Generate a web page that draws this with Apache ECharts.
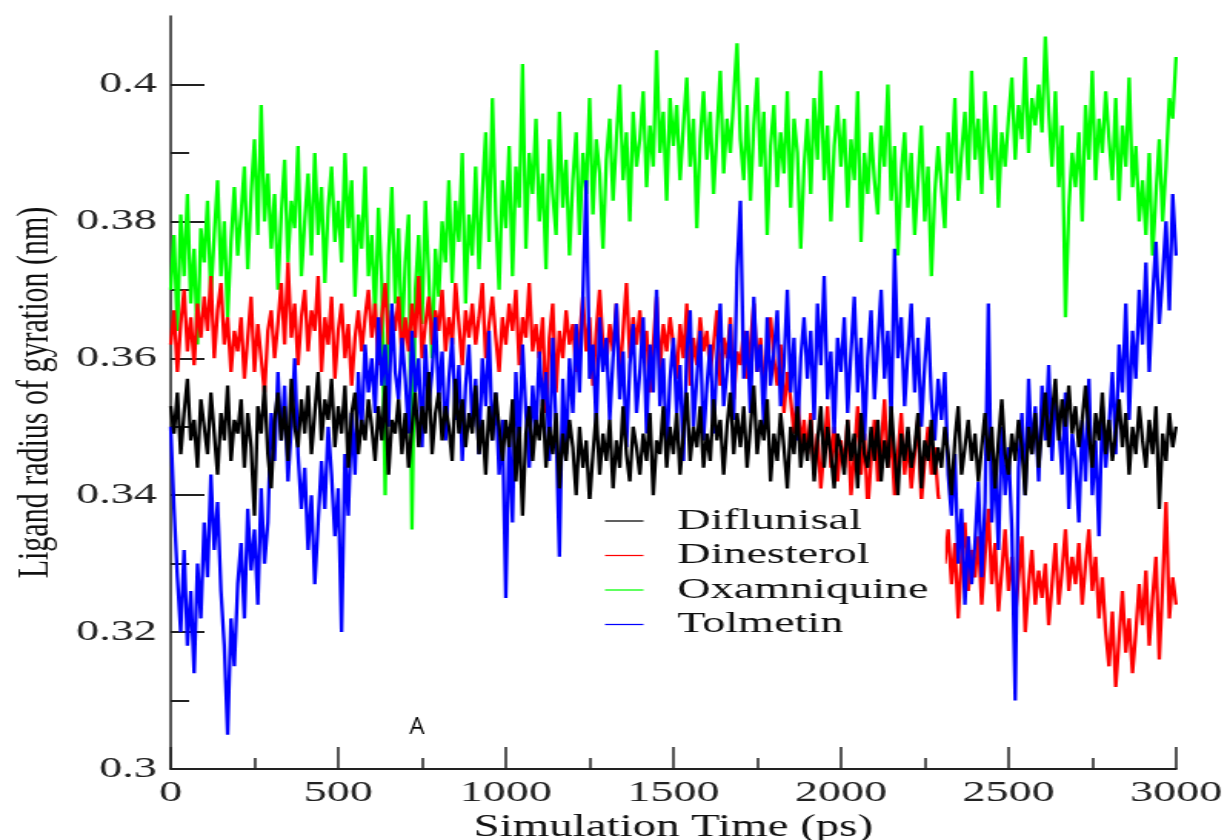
<!DOCTYPE html>
<html>
<head>
<meta charset="utf-8">
<script src="https://cdn.jsdelivr.net/npm/echarts@6/dist/echarts.min.js"></script>
<style>
html,body{margin:0;padding:0;background:#fff;overflow:hidden;}
#chart{width:800px;height:840px;transform:scaleX(1.5375);transform-origin:0 0;}
</style>
</head>
<body>
<div id="chart"></div>
<script>
// Simulation time step (ps) between samples, samples from 0 to 3000 ps
const timeStep = 10;

const diflunisal = [
0.353,0.349,0.355,0.346,0.352,0.357,0.348,0.351,0.344,0.354,
0.350,0.346,0.355,0.349,0.343,0.352,0.348,0.356,0.345,0.351,
0.349,0.354,0.344,0.352,0.347,0.337,0.353,0.349,0.356,0.346,
0.341,0.351,0.355,0.348,0.353,0.345,0.357,0.350,0.347,0.354,
0.349,0.356,0.346,0.352,0.358,0.348,0.354,0.351,0.357,0.347,
0.353,0.349,0.356,0.344,0.352,0.355,0.346,0.351,0.348,0.354,
0.350,0.345,0.353,0.348,0.356,0.343,0.351,0.349,0.354,0.346,
0.352,0.344,0.350,0.355,0.347,0.353,0.349,0.358,0.346,0.352,
0.355,0.348,0.353,0.350,0.345,0.357,0.349,0.354,0.347,0.352,
0.349,0.356,0.346,0.351,0.343,0.353,0.348,0.355,0.350,0.345,
0.351,0.347,0.354,0.342,0.350,0.337,0.349,0.353,0.345,0.351,
0.348,0.354,0.344,0.350,0.346,0.352,0.341,0.349,0.345,0.351,
0.347,0.340,0.350,0.344,0.348,0.339,0.346,0.352,0.343,0.349,
0.345,0.351,0.341,0.348,0.344,0.353,0.346,0.342,0.350,0.347,
0.343,0.349,0.345,0.352,0.340,0.348,0.346,0.353,0.344,0.350,
0.346,0.352,0.343,0.349,0.355,0.345,0.350,0.347,0.353,0.344,
0.349,0.345,0.354,0.348,0.351,0.343,0.350,0.355,0.346,0.352,
0.347,0.353,0.344,0.350,0.356,0.346,0.351,0.348,0.354,0.342,
0.349,0.345,0.352,0.347,0.341,0.350,0.346,0.353,0.344,0.349,
0.345,0.351,0.342,0.348,0.353,0.344,0.350,0.346,0.341,0.349,
0.347,0.343,0.351,0.345,0.349,0.341,0.352,0.346,0.344,0.350,
0.345,0.351,0.342,0.348,0.344,0.353,0.346,0.340,0.349,0.345,
0.350,0.344,0.347,0.352,0.341,0.348,0.345,0.351,0.343,0.347,
0.344,0.350,0.346,0.340,0.348,0.353,0.343,0.347,0.351,0.345,
0.349,0.342,0.347,0.352,0.345,0.350,0.341,0.348,0.354,0.346,
0.343,0.349,0.345,0.351,0.347,0.340,0.350,0.346,0.352,0.344,
0.350,0.355,0.347,0.352,0.357,0.348,0.354,0.350,0.356,0.349,
0.353,0.347,0.351,0.356,0.349,0.344,0.352,0.348,0.355,0.346,
0.351,0.345,0.349,0.354,0.347,0.352,0.343,0.350,0.346,0.353,
0.348,0.344,0.351,0.346,0.353,0.338,0.349,0.345,0.352,0.347,
0.350];

const dinesterol = [
0.362,0.367,0.358,0.365,0.370,0.361,0.366,0.359,0.368,0.363,
0.369,0.364,0.372,0.360,0.367,0.371,0.362,0.366,0.358,0.364,
0.361,0.366,0.357,0.363,0.369,0.358,0.365,0.360,0.355,0.364,
0.367,0.360,0.365,0.371,0.362,0.374,0.363,0.368,0.359,0.366,
0.370,0.361,0.367,0.364,0.372,0.358,0.366,0.362,0.369,0.357,
0.364,0.368,0.360,0.365,0.356,0.363,0.367,0.361,0.366,0.370,
0.363,0.368,0.359,0.366,0.371,0.362,0.367,0.364,0.369,0.360,
0.366,0.361,0.368,0.363,0.372,0.360,0.365,0.369,0.362,0.367,
0.364,0.370,0.361,0.366,0.362,0.371,0.365,0.359,0.367,0.363,
0.368,0.362,0.366,0.371,0.360,0.365,0.369,0.363,0.358,0.366,
0.362,0.368,0.364,0.370,0.359,0.366,0.363,0.371,0.361,0.365,
0.360,0.366,0.352,0.363,0.368,0.355,0.364,0.360,0.367,0.362,
0.365,0.358,0.363,0.369,0.361,0.366,0.356,0.364,0.370,0.362,
0.359,0.365,0.361,0.368,0.357,0.364,0.371,0.360,0.366,0.362,
0.367,0.360,0.364,0.355,0.362,0.369,0.358,0.365,0.361,0.366,
0.362,0.357,0.365,0.360,0.368,0.356,0.363,0.359,0.366,0.361,
0.364,0.358,0.362,0.367,0.356,0.363,0.360,0.366,0.354,0.361,
0.359,0.364,0.357,0.362,0.368,0.358,0.363,0.355,0.361,0.366,
0.360,0.356,0.362,0.352,0.358,0.354,0.349,0.355,0.347,0.351,
0.346,0.352,0.343,0.349,0.341,0.347,0.353,0.344,0.350,0.342,
0.348,0.344,0.351,0.340,0.346,0.353,0.343,0.349,0.338,0.345,
0.351,0.342,0.347,0.354,0.344,0.349,0.340,0.346,0.352,0.343,
0.348,0.341,0.346,0.351,0.339,0.345,0.350,0.343,0.347,0.340,
0.337,0.330,0.335,0.327,0.333,0.322,0.331,0.336,0.326,0.332,
0.328,0.334,0.324,0.331,0.338,0.327,0.333,0.323,0.329,0.335,
0.326,0.331,0.322,0.328,0.334,0.320,0.327,0.332,0.324,0.329,
0.325,0.330,0.321,0.327,0.333,0.324,0.329,0.335,0.326,0.331,
0.327,0.333,0.324,0.330,0.335,0.326,0.331,0.322,0.328,0.320,
0.315,0.323,0.312,0.319,0.326,0.317,0.322,0.314,0.320,0.327,
0.321,0.329,0.318,0.325,0.331,0.316,0.327,0.339,0.322,0.328,
0.324];

const oxamniquine = [
0.370,0.378,0.364,0.381,0.372,0.384,0.368,0.376,0.362,0.379,
0.374,0.383,0.369,0.378,0.386,0.372,0.380,0.366,0.377,0.385,
0.375,0.381,0.388,0.373,0.384,0.392,0.378,0.397,0.380,0.387,
0.376,0.384,0.370,0.381,0.389,0.374,0.383,0.379,0.391,0.372,
0.380,0.387,0.375,0.390,0.378,0.385,0.371,0.382,0.388,0.377,
0.383,0.374,0.390,0.379,0.386,0.369,0.381,0.376,0.388,0.372,
0.378,0.366,0.382,0.371,0.340,0.375,0.385,0.368,0.379,0.362,
0.374,0.381,0.335,0.370,0.378,0.365,0.383,0.372,0.360,0.376,
0.369,0.380,0.374,0.386,0.371,0.383,0.377,0.390,0.368,0.381,
0.375,0.388,0.373,0.384,0.393,0.377,0.398,0.381,0.370,0.386,
0.379,0.391,0.372,0.388,0.382,0.403,0.376,0.390,0.384,0.395,
0.380,0.387,0.373,0.392,0.384,0.378,0.396,0.382,0.389,0.375,
0.386,0.393,0.378,0.390,0.384,0.398,0.381,0.392,0.387,0.376,
0.389,0.395,0.383,0.392,0.400,0.386,0.393,0.380,0.396,0.388,
0.392,0.399,0.385,0.394,0.388,0.405,0.390,0.396,0.383,0.398,
0.391,0.397,0.386,0.394,0.401,0.388,0.395,0.379,0.392,0.399,
0.389,0.396,0.384,0.393,0.402,0.387,0.395,0.390,0.398,0.406,
0.392,0.386,0.397,0.383,0.394,0.401,0.388,0.396,0.378,0.391,
0.397,0.385,0.393,0.387,0.399,0.382,0.395,0.390,0.376,0.388,
0.395,0.384,0.398,0.389,0.402,0.386,0.394,0.380,0.391,0.397,
0.388,0.395,0.382,0.392,0.386,0.399,0.377,0.390,0.384,0.393,
0.386,0.381,0.394,0.388,0.400,0.383,0.391,0.375,0.387,0.393,
0.382,0.390,0.378,0.386,0.394,0.380,0.388,0.372,0.384,0.391,
0.385,0.379,0.393,0.387,0.398,0.383,0.390,0.396,0.386,0.402,
0.389,0.395,0.384,0.399,0.391,0.386,0.397,0.382,0.393,0.388,
0.395,0.401,0.389,0.397,0.392,0.404,0.390,0.398,0.394,0.400,
0.393,0.407,0.396,0.388,0.399,0.385,0.394,0.366,0.382,0.390,
0.385,0.393,0.380,0.397,0.389,0.402,0.386,0.395,0.390,0.399,
0.392,0.386,0.398,0.383,0.394,0.388,0.401,0.385,0.391,0.380,
0.386,0.378,0.390,0.375,0.384,0.392,0.380,0.388,0.398,0.395,
0.404];

const tolmetin = [
0.350,0.338,0.328,0.320,0.332,0.318,0.326,0.314,0.330,0.322,
0.336,0.328,0.343,0.332,0.339,0.326,0.318,0.305,0.322,0.315,
0.327,0.333,0.322,0.338,0.329,0.335,0.324,0.341,0.330,0.336,
0.352,0.345,0.358,0.348,0.356,0.342,0.350,0.360,0.346,0.338,
0.344,0.332,0.340,0.327,0.336,0.345,0.338,0.350,0.343,0.334,
0.341,0.320,0.346,0.337,0.352,0.343,0.358,0.349,0.362,0.355,
0.360,0.352,0.366,0.356,0.362,0.350,0.368,0.358,0.354,0.363,
0.357,0.349,0.364,0.355,0.360,0.347,0.362,0.353,0.358,0.366,
0.354,0.361,0.348,0.357,0.363,0.351,0.359,0.345,0.356,0.362,
0.350,0.357,0.346,0.360,0.353,0.364,0.348,0.355,0.343,0.351,
0.325,0.350,0.336,0.358,0.347,0.362,0.352,0.344,0.356,0.349,
0.361,0.353,0.358,0.345,0.363,0.350,0.331,0.357,0.346,0.360,
0.352,0.365,0.355,0.369,0.386,0.357,0.362,0.350,0.366,0.358,
0.363,0.351,0.360,0.368,0.354,0.361,0.347,0.359,0.365,0.352,
0.358,0.366,0.349,0.362,0.355,0.370,0.353,0.360,0.346,0.357,
0.363,0.352,0.359,0.345,0.361,0.367,0.350,0.357,0.364,0.348,
0.356,0.362,0.349,0.360,0.368,0.353,0.358,0.365,0.351,0.373,
0.383,0.357,0.364,0.352,0.369,0.358,0.362,0.350,0.366,0.356,
0.361,0.367,0.353,0.359,0.370,0.355,0.363,0.348,0.360,0.366,
0.357,0.364,0.351,0.368,0.359,0.372,0.354,0.361,0.349,0.363,
0.358,0.366,0.352,0.361,0.369,0.355,0.363,0.348,0.360,0.367,
0.354,0.362,0.370,0.357,0.364,0.351,0.376,0.360,0.366,0.353,
0.361,0.368,0.355,0.363,0.350,0.359,0.366,0.354,0.348,0.357,
0.351,0.358,0.343,0.337,0.346,0.330,0.338,0.324,0.334,0.327,
0.333,0.342,0.328,0.339,0.368,0.336,0.345,0.332,0.350,0.340,
0.347,0.335,0.310,0.344,0.352,0.340,0.357,0.346,0.353,0.342,
0.356,0.348,0.359,0.345,0.354,0.350,0.343,0.355,0.338,0.349,
0.345,0.336,0.351,0.342,0.357,0.340,0.348,0.334,0.353,0.344,
0.350,0.358,0.346,0.362,0.355,0.368,0.351,0.364,0.357,0.370,
0.362,0.374,0.358,0.369,0.377,0.365,0.372,0.380,0.367,0.384,
0.375];

const xTicks = [0, 500, 1000, 1500, 2000, 2500, 3000];
const yTicks = [0.3, 0.32, 0.34, 0.36, 0.38, 0.4];
const yMinorTicks = [0.31, 0.33, 0.35, 0.37, 0.39];

function pairs(arr) {
  return arr.map(function (v, i) { return [i * timeStep, v]; });
}

const S = 1.5375; // horizontal stretch applied to the whole canvas
const serif = '"Liberation Serif", "Times New Roman", serif';
const axisCol = '#222';
const lineIcon = 'path://M0,0 H40 V2 H0 Z';

const chart = echarts.init(document.getElementById('chart'));

const option = {
  backgroundColor: '#fff',
  animation: false,
  grid: { left: 111, right: 35.1, top: 16, bottom: 71, containLabel: false, outerBoundsMode: 'none' },
  xAxis: [{
    type: 'value', min: 0, max: 3000, interval: 500,
    name: 'Simulation Time (ps)', nameLocation: 'middle', nameGap: 35,
    nameTextStyle: { fontFamily: serif, fontSize: 30.5, color: '#111' },
    axisLine: { show: true, onZero: false, lineStyle: { color: axisCol, width: 2 } },
    axisTick: { show: true, inside: true, length: 22, customValues: xTicks, lineStyle: { color: axisCol, width: 1.5 } },
    minorTick: { show: true, splitNumber: 2, length: 11, lineStyle: { color: axisCol, width: 1.5 } },
    axisLabel: { fontFamily: serif, fontSize: 30, color: '#222', margin: 9, customValues: xTicks,
      formatter: function (v) { return String(Math.round(v)); } },
    splitLine: { show: false }, minorSplitLine: { show: false }
  }],
  yAxis: [{
    type: 'value', min: 0.3, max: 0.41,
    name: 'Ligand radius of gyration (nm)', nameLocation: 'middle', nameGap: 73, nameRotate: 90,
    nameTextStyle: { fontFamily: serif, fontSize: 30, color: '#111' },
    axisLine: { show: true, onZero: false, lineStyle: { color: axisCol, width: 1.5 } },
    axisTick: { show: true, inside: true, length: 22, customValues: yTicks, lineStyle: { color: axisCol, width: 2 } },
    axisLabel: { fontFamily: serif, fontSize: 30, color: '#222', margin: 9, customValues: yTicks,
      formatter: function (v) { return String(+v.toFixed(2)); } },
    splitLine: { show: false }
  }, {
    type: 'value', min: 0.3, max: 0.41, position: 'left', offset: 0,
    axisLine: { show: false },
    axisTick: { show: true, inside: true, length: 12, customValues: yMinorTicks, lineStyle: { color: axisCol, width: 2 } },
    axisLabel: { show: false },
    splitLine: { show: false }
  }],
  legend: {
    orient: 'vertical', left: 367.5, top: 499,
    padding: [7, 11, 10, 26], itemGap: 4.5,
    itemWidth: 25, itemHeight: 2,
    backgroundColor: '#fff', borderWidth: 0,
    data: [
      { name: 'Diflunisal', icon: lineIcon },
      { name: 'Dinesterol', icon: lineIcon },
      { name: 'Oxamniquine', icon: lineIcon },
      { name: 'Tolmetin', icon: lineIcon }
    ],
    textStyle: { fontFamily: serif, fontSize: 30, color: '#111', lineHeight: 30, padding: [0, 0, 0, 17] },
    selectedMode: false
  },
  graphic: [{
    type: 'text', x: 271.2, y: 727, scaleX: 1 / S, z: 10,
    style: { text: 'A', fontSize: 24, fontFamily: '"Open Sans", "DejaVu Sans", sans-serif', fill: '#000',
      align: 'center', verticalAlign: 'middle', textAlign: 'center', textVerticalAlign: 'middle' }
  }],
  series: [
    { name: 'Oxamniquine', type: 'line', data: pairs(oxamniquine), symbol: 'none', lineStyle: { color: '#00ff00', width: 2.3 }, itemStyle: { color: '#00ff00' } },
    { name: 'Dinesterol', type: 'line', data: pairs(dinesterol), symbol: 'none', lineStyle: { color: '#ff0000', width: 2.3 }, itemStyle: { color: '#ff0000' } },
    { name: 'Tolmetin', type: 'line', data: pairs(tolmetin), symbol: 'none', lineStyle: { color: '#0000ff', width: 2.3 }, itemStyle: { color: '#0000ff' } },
    { name: 'Diflunisal', type: 'line', data: pairs(diflunisal), symbol: 'none', lineStyle: { color: '#000000', width: 2.3 }, itemStyle: { color: '#000000' } }
  ]
};
chart.setOption(option);
</script>
</body>
</html>
